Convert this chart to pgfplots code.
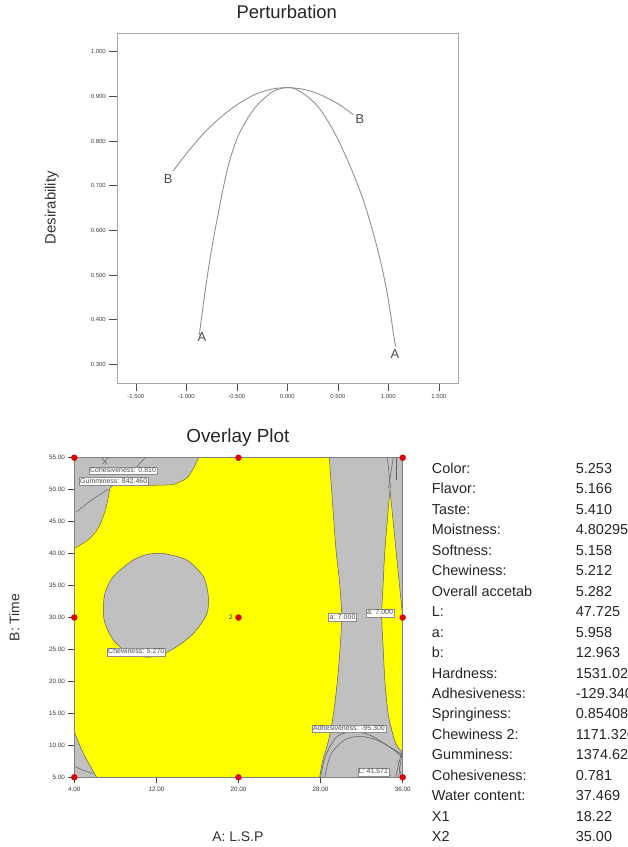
\documentclass[border=0pt]{standalone}
\usepackage{fontspec}
\setmainfont{Liberation Sans}
\usepackage{pgfplots}
\pgfplotsset{compat=1.18}
\definecolor{ovyellow}{RGB}{255,255,0}
\definecolor{ovgray}{RGB}{192,192,192}
\definecolor{curvegray}{RGB}{145,145,145}
\definecolor{cntr}{RGB}{95,95,95}
\definecolor{dotred}{RGB}{232,0,0}
\tikzset{lbl/.style={fill=white, draw=black!45, line width=0.4pt, font=\fontsize{7}{7}\selectfont,
    text=black!70, inner xsep=1bp, inner ysep=0.8bp, text height=5bp, text depth=1.3bp}}

\begin{document}
\begin{tikzpicture}
\useasboundingbox (0,0) rectangle (628bp,-847bp);

% ---------------- Perturbation ----------------
\begin{axis}[
  at={(117.3bp,-383.3bp)}, anchor=south west,
  width=341bp, height=350bp, scale only axis,
  xmin=-1.683, xmax=1.693, ymin=0.2575, ymax=1.041,
  axis line style={draw=black!35, line width=1.1pt},
  tick pos=left, tick align=outside, major tick length=8bp,
  tick style={draw=black!70, line width=0.5pt},
  xtick={-1.5,-1,-0.5,0,0.5,1,1.5},
  ytick={0.3,0.4,0.5,0.6,0.7,0.8,0.9,1.0},
  /pgf/number format/fixed, /pgf/number format/fixed zerofill,
  /pgf/number format/precision=3, /pgf/number format/assume math mode=true,
  tick label style={font=\fontsize{6}{7}\selectfont, text=black!75},
  title={Perturbation},
  title style={at={(axis description cs:0.497,1.043)}, anchor=center, font=\fontsize{18.5}{20}\selectfont, text=black!85},
  ylabel={Desirability},
  ylabel style={at={(axis description cs:-0.192,0.502)}, anchor=center, font=\fontsize{15}{16}\selectfont, text=black!80},
]
\addplot[curvegray, line width=0.9pt, smooth] coordinates {
  (-0.871,0.366) (-0.825,0.445) (-0.782,0.512) (-0.733,0.579) (-0.683,0.638)
  (-0.634,0.695) (-0.568,0.758) (-0.485,0.812) (-0.386,0.853) (-0.287,0.883)
  (-0.155,0.909) (-0.07,0.917) (0,0.9195) (0.075,0.917) (0.19,0.901)
  (0.30,0.878) (0.40,0.845) (0.505,0.802) (0.638,0.735) (0.752,0.668)
  (0.851,0.594) (0.935,0.519) (1.0,0.445) (1.050,0.370) (1.072,0.340)
};
\addplot[curvegray, line width=0.9pt, smooth] coordinates {
  (-1.129,0.733) (-0.980,0.777) (-0.815,0.820) (-0.650,0.855) (-0.485,0.883)
  (-0.320,0.904) (-0.155,0.916) (0,0.9195) (0.15,0.916) (0.291,0.907)
  (0.489,0.885) (0.653,0.859)
};
\node[font=\fontsize{13}{13}\selectfont, text=black!70] at (axis cs:-0.845,0.360) {A};
\node[font=\fontsize{13}{13}\selectfont, text=black!70] at (axis cs:1.066,0.322) {A};
\node[font=\fontsize{13}{13}\selectfont, text=black!70] at (axis cs:-1.178,0.714) {B};
\node[font=\fontsize{13}{13}\selectfont, text=black!70] at (axis cs:0.72,0.849) {B};
\end{axis}

% ---------------- Overlay Plot ----------------
\begin{axis}[
  at={(74.3bp,-777.3bp)}, anchor=south west,
  width=328.4bp, height=319.6bp, scale only axis,
  xmin=4, xmax=36, ymin=5, ymax=55,
  axis background/.style={fill=ovgray},
  axis on top,
  axis line style={draw=black!50, line width=0.6pt},
  tick pos=left, tick align=outside, major tick length=6bp,
  tick style={draw=black!75, line width=0.6pt},
  xtick={4,12,20,28,36},
  ytick={5,10,15,20,25,30,35,40,45,50,55},
  /pgf/number format/fixed, /pgf/number format/fixed zerofill,
  /pgf/number format/precision=2, /pgf/number format/assume math mode=true,
  tick label style={font=\fontsize{6.3}{7}\selectfont, text=black!80},
  title={Overlay Plot},
  title style={at={(axis description cs:0.498,1.045)}, anchor=center, font=\fontsize{19}{20}\selectfont, text=black!85},
  xlabel={A: L.S.P},
  xlabel style={at={(axis description cs:0.498,-0.186)}, anchor=center, font=\fontsize{14}{16}\selectfont, text=black!80},
  ylabel={B: Time},
  ylabel style={at={(axis description cs:-0.1827,0.5)}, anchor=center, font=\fontsize{14}{16}\selectfont, text=black!80},
]
% main feasible (yellow) region
\addplot[fill=ovyellow, draw=none] coordinates {
  (4,40.8) (4,12.1) (4.88,8.75) (6.18,5) (27.9,5) (28.26,8.0) (28.75,10.6)
  (29.24,14.75) (29.63,20.0) (29.9,25.2) (30.05,30.3) (29.85,35.5) (29.5,40.6)
  (29.14,48.4) (28.85,55) (16.1,55) (15.6,53.3) (14.95,51.8) (13.8,50.9)
  (12.35,50.7) (8.45,50.7) (7.8,50.6) (7.48,50.2) (7.16,47.6) (6.5,44.5) (5.53,42.4) (4,40.8)
};
% right yellow sliver
\addplot[fill=ovyellow, draw=none] coordinates {
  (34.76,50) (34.27,40.6) (34.1,35.4) (33.95,30.4) (34.1,25.2) (34.27,20)
  (34.6,14.75) (35.25,10.6) (35.74,9.3) (36,9.0) (36,30) (34.76,50)
};
% boundaries
\addplot[cntr, line width=0.5pt, smooth] coordinates {
  (4,40.8) (5.53,42.4) (6.5,44.5) (7.16,47.6) (7.48,50.2) (7.8,50.6) (8.45,50.7)
  (12.35,50.7) (13.8,50.9) (14.95,51.8) (15.6,53.3) (16.1,55)
};
\addplot[cntr, line width=0.5pt, smooth] coordinates {(4,12.1) (4.88,8.75) (6.18,5)};
\addplot[cntr, line width=0.5pt, smooth] coordinates {
  (27.9,5) (28.26,8.0) (28.75,10.6) (29.24,14.75) (29.63,20.0) (29.9,25.2)
  (30.05,30.3) (29.85,35.5) (29.5,40.6) (29.14,48.4) (28.85,55)
};
\addplot[cntr, line width=0.5pt, smooth] coordinates {
  (34.76,50) (34.27,40.6) (34.1,35.4) (33.95,30.4) (34.1,25.2) (34.27,20)
  (34.6,14.75) (35.25,10.6) (35.74,9.3) (36,9.0)
};
\addplot[cntr, line width=0.5pt] coordinates {(34.76,50) (36,30)};
% other contour lines in the grey area
\addplot[cntr, line width=0.5pt] coordinates {(4.2,46.5) (5.6,48.3) (7.3,50.05)};
\addplot[cntr, line width=0.5pt] coordinates {(10.9,55) (10.1,53.6)};
\addplot[cntr, line width=0.5pt] coordinates {(6.65,55) (7.2,54.0)};
\addplot[cntr, line width=0.5pt] coordinates {(7.3,55) (6.75,54.0)};
\addplot[cntr, line width=0.5pt] coordinates {(4.07,6.66) (5.0,6.0) (5.85,5.6)};
\addplot[cntr, line width=0.5pt] coordinates {(34.5,55) (34.83,50.2)};
\addplot[cntr, line width=0.5pt] coordinates {(35.08,55) (34.6,50.2)};
\addplot[cntr, line width=0.5pt] coordinates {(35.4,55) (35.4,51.5)};
\addplot[cntr, line width=0.6pt, smooth] coordinates {
  (28.0,5) (28.45,8.2) (29.57,11.35) (31.2,12.13) (32.8,11.6) (34.44,10.05) (35.74,8.75) (36,8.5)
};
\addplot[cntr, line width=0.5pt, smooth] coordinates {
  (28.4,5) (29.0,8.6) (30.4,10.9) (32.0,11.4) (33.8,10.6) (35.2,9.2) (36,8.0)
};
\addplot[cntr, line width=0.5pt] coordinates {(35.3,5) (36,9.6)};
\addplot[cntr, line width=0.5pt] coordinates {(35.6,5) (35.9,8.6)};
\addplot[cntr, line width=0.5pt] coordinates {(35.9,5) (35.5,7.6)};
\addplot[black!85, line width=1.0pt] coordinates {(33.5,5.25) (34.8,5.3)};
% grey island
\addplot[fill=ovgray, draw=cntr, line width=0.5pt, smooth] coordinates {
  (12.67,40.04) (14.95,39.0) (16.57,36.4) (17.06,33.3) (16.9,30.5) (15.6,27.5)
  (13.98,25.43) (12.5,24.2) (11.05,23.8) (9.1,24.65) (7.8,26.5) (6.99,29.1)
  (6.83,31.2) (6.99,33.8) (7.8,36.4) (9.75,39.0) (11.2,39.9) (12.67,40.04)
};
% contour labels
\node[lbl] at (axis cs:8.75,52.97) {Cohesiveness: 0.810};
\node[lbl] at (axis cs:7.84,51.33) {Gumminess: 842.460};
\node[lbl] at (axis cs:10.04,24.63) {Chewiness: 5.270};
\node[lbl] at (axis cs:30.13,30.05) {a: 7.000};
\node[lbl] at (axis cs:33.79,30.7) {a: 7.000};
\node[lbl] at (axis cs:30.77,12.6) {Adhesiveness: -95.300};
\node[lbl] at (axis cs:33.14,5.87) {L: 41.571};
% design points
\addplot[only marks, mark=*, mark size=3bp, mark options={fill=dotred, draw=red!75!black, line width=0.3pt}] coordinates {
  (4,5) (4,30) (4,55) (20,5) (20,30) (20,55) (36,5) (36,30) (36,55)
};
\node[anchor=east, inner sep=0pt, font=\fontsize{6.5}{7}\selectfont, text=black!80] at (axis cs:19.45,30) {2};
\end{axis}

% ---------------- prediction table ----------------
\foreach \lab/\val [count=\i from 0] in {
  Color:/5.253, Flavor:/5.166, Taste:/5.410, Moistness:/4.80295, Softness:/5.158,
  Chewiness:/5.212, Overall accetab/5.282, L:/47.725, a:/5.958, b:/12.963,
  Hardness:/1531.024, Adhesiveness:/-129.340, Springiness:/0.85408,
  Chewiness 2:/1171.320, Gumminess:/1374.624, Cohesiveness:/0.781,
  Water content:/37.469, X1/18.22, X2/35.00} {
  \pgfmathsetmacro\yy{-473.3-20.47*\i}
  \node[anchor=base west, inner sep=0pt, font=\fontsize{14.5}{16}\selectfont, text=black!85] at (431.7bp,\yy bp) {\lab};
  \node[anchor=base west, inner sep=0pt, font=\fontsize{14.5}{16}\selectfont, text=black!85] at (575.7bp,\yy bp) {\val};
}
\end{tikzpicture}
\end{document}
